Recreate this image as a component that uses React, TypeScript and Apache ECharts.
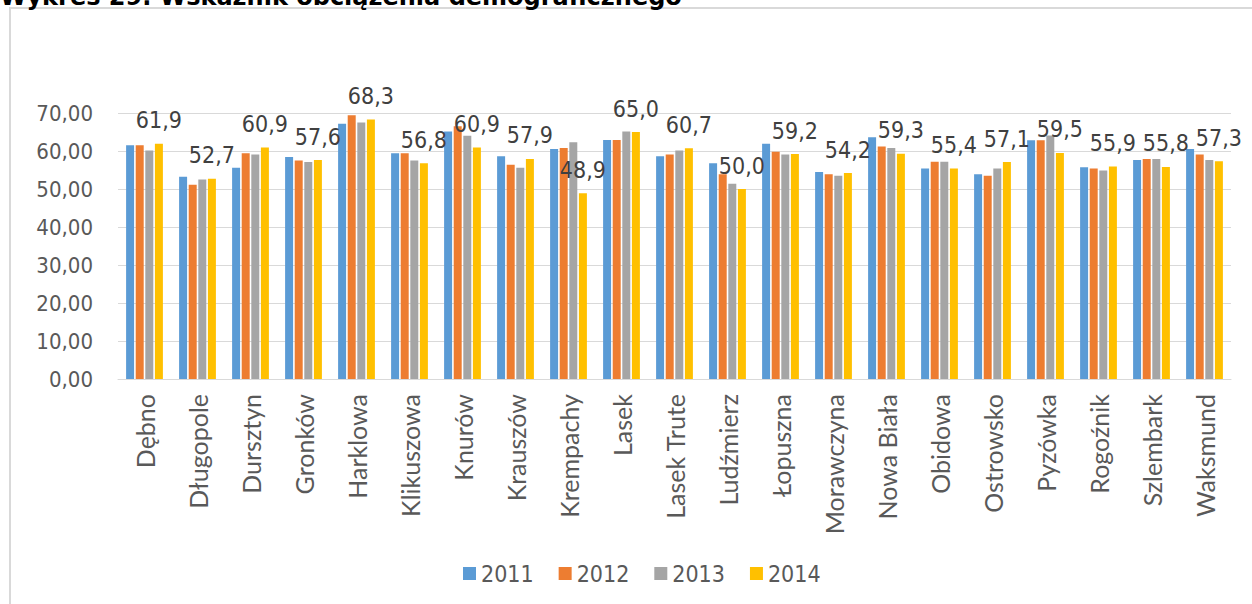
import React, { useEffect, useRef } from "react";
import * as echarts from "echarts";

const categories = [
  "Dębno", "Długopole", "Dursztyn", "Gronków", "Harklowa", "Klikuszowa", "Knurów",
  "Krauszów", "Krempachy", "Lasek", "Lasek Trute", "Ludźmierz", "Łopuszna", "Morawczyna",
  "Nowa Biała", "Obidowa", "Ostrowsko", "Pyzówka", "Rogoźnik", "Szlembark", "Waksmund",
];
const years = ["2011", "2012", "2013", "2014"];
const v2011 = [61.5, 53.2, 55.6, 58.4, 67.2, 59.4, 65.1, 58.6, 60.5, 62.9, 58.6, 56.8, 61.9, 54.5, 63.6, 55.4, 53.9, 62.8, 55.7, 57.6, 60.5];
const v2012 = [61.5, 51.1, 59.4, 57.5, 69.4, 59.4, 66.5, 56.4, 60.8, 62.9, 59.1, 53.9, 59.8, 53.9, 61.2, 57.2, 53.5, 62.8, 55.4, 57.9, 59.1];
const v2013 = [60.1, 52.5, 59.1, 57.1, 67.5, 57.5, 64.0, 55.6, 62.3, 65.1, 60.1, 51.4, 59.1, 53.5, 60.8, 57.2, 55.4, 64.1, 54.9, 57.9, 57.6];
const v2014 = [61.9, 52.7, 60.9, 57.6, 68.3, 56.8, 60.9, 57.9, 48.9, 65.0, 60.7, 50.0, 59.2, 54.2, 59.3, 55.4, 57.1, 59.5, 55.9, 55.8, 57.3];
const colors = ["#5B9BD5", "#ED7D31", "#A5A5A5", "#FFC000"];
const yMin = 0;
const yMax = 70;
const yInterval = 10;
const title = "Wykres 29. Wskaźnik obciążenia demograficznego";

const numFont = "'DejaVu Sans Condensed', 'DejaVu Sans', sans-serif";

export default function App() {
  const ref = useRef<HTMLDivElement>(null);
  useEffect(() => {
    document.body.style.margin = "0";
    if (!ref.current) return;
    const chart = echarts.init(ref.current, undefined, { renderer: "svg" });
    const seriesData = [v2011, v2012, v2013, v2014];
    chart.setOption({
      animation: false,
      backgroundColor: "#ffffff",
      color: colors,
      graphic: [
        {
          type: "rect",
          shape: { x: 10, y: 8, width: 1400, height: 800 },
          style: { fill: "none", stroke: "#d9d9d9", lineWidth: 2 },
          silent: true,
        },
        {
          type: "text",
          x: 0,
          y: -3,
          style: {
            text: title,
            fontFamily: "'DejaVu Sans', sans-serif",
            fontWeight: "bold",
            fontSize: 24,
            fill: "#000000",
            verticalAlign: "middle",
            align: "left",
          },
        },
      ],
      grid: { left: 118, right: 21, top: 113, bottom: 225, containLabel: false },
      legend: {
        data: years,
        left: 458,
        top: 557,
        itemWidth: 13,
        itemHeight: 13,
        itemGap: 25,
        icon: "rect",
        textStyle: { fontFamily: numFont, fontSize: 23, color: "#595959" },
      },
      xAxis: {
        type: "category",
        data: categories,
        axisLine: { show: true, lineStyle: { color: "#d9d9d9", width: 1 } },
        axisTick: { show: false },
        axisLabel: {
          rotate: 90,
          interval: 0,
          margin: 15,
          fontFamily: "Lato, 'Open Sans', sans-serif",
          fontSize: 25,
          color: "#595959",
        },
      },
      yAxis: {
        type: "value",
        min: yMin,
        max: yMax,
        interval: yInterval,
        axisLine: { show: false },
        axisTick: { show: false },
        splitLine: { lineStyle: { color: "#d9d9d9", width: 1 } },
        axisLabel: {
          margin: 25,
          fontFamily: numFont,
          fontSize: 22,
          color: "#595959",
          formatter: (v: number) => v.toFixed(2).replace(".", ","),
        },
      },
      series: years.map((y, i) => ({
        name: y,
        type: "bar",
        data: seriesData[i],
        barWidth: 8,
        barGap: "20%",
        itemStyle: { color: colors[i] },
        label:
          i === 3
            ? {
                show: true,
                position: "top",
                distance: 12,
                fontFamily: numFont,
                fontSize: 23,
                color: "#404040",
                formatter: (p: any) => Number(p.value).toFixed(1).replace(".", ","),
              }
            : { show: false },
      })),
    });
    return () => chart.dispose();
  }, []);
  return <div ref={ref} style={{ width: 1252, height: 604 }} />;
}
